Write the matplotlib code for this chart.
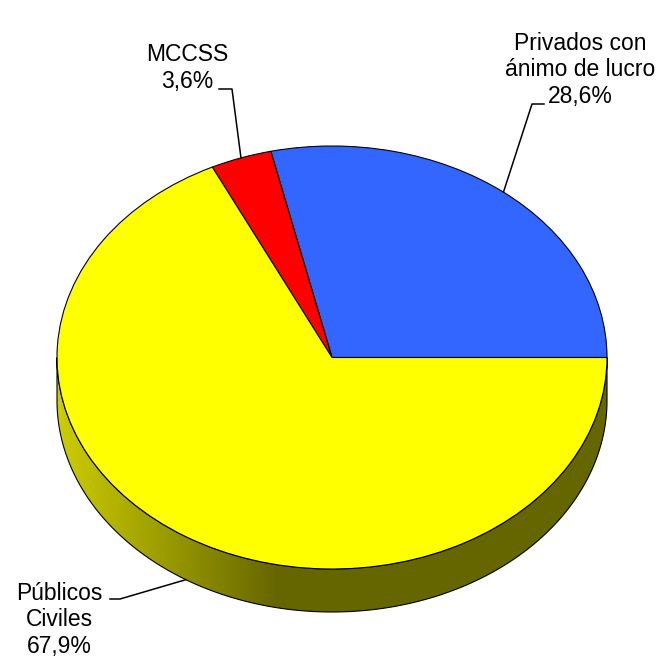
import numpy as np
import matplotlib.pyplot as plt
from matplotlib.patches import Polygon

plt.rcParams['font.family'] = ['Liberation Sans', 'DejaVu Sans']

# data
labels = ['Privados con\nánimo de lucro', 'MCCSS', 'Públicos\nCiviles']
shares = [28.6, 3.6, 67.9]
pct_text = ['28,6%', '3,6%', '67,9%']
colors = ['#3366FF', '#FF0000', '#FFFF00']

# layout in pixels of the 668x661 picture
W, H = 668, 661
CX, CY, RX, RY, DEPTH = 332, 357.5, 275, 211.5, 43
text_pos = [(580, 103), (187, 88), (59, 653)]     # centre / baseline of last line
knee_pos = [(532, 104), (232, 89), (120, 599)]
tail_x = [544, 219, 110]


def px(x, y):
    return (x - CX) / RX, (CY - y) / RY


fig = plt.figure(figsize=(W / 100, H / 100), dpi=100)
ax = fig.add_axes([0, 0, 1, 1])

wedges, _ = ax.pie(shares, colors=colors, startangle=0, counterclock=True,
                   wedgeprops=dict(edgecolor='black', linewidth=0.8, zorder=3))

d = DEPTH / RY

# side wall of the "3d" pie
t = np.linspace(np.pi, 2 * np.pi, 300)
top = np.column_stack([np.cos(t), np.sin(t)])
bot = np.column_stack([np.cos(t), np.sin(t) - d])[::-1]
side = Polygon(np.vstack([top, bot]), closed=True, facecolor='none',
               edgecolor='black', linewidth=0.8, zorder=2)
ax.add_patch(side)

xs = np.linspace(-1, 1, 500)
f = np.clip((xs + 1) / 0.8, 0, 1)
v = (205 - 103 * f) / 255
grad = np.stack([v, v, np.zeros_like(v)], axis=-1)[None, :, :]
im = ax.imshow(grad, extent=[-1, 1, -1 - d, 0], aspect='auto', zorder=1)
im.set_clip_path(side)

# labels with leader lines
cum = np.cumsum([0] + shares) / sum(shares) * 360
for i in range(len(shares)):
    m = np.radians((cum[i] + cum[i + 1]) / 2)
    ax0, ay0 = np.cos(m), np.sin(m)
    if ay0 < 0:
        ay0 -= d
    kx, ky = px(*knee_pos[i])
    tx, _ = px(tail_x[i], knee_pos[i][1])
    ax.plot([ax0, kx, tx], [ay0, ky, ky], color='black', lw=1.1, zorder=4)
    lx, ly = px(*text_pos[i])
    ax.text(lx, ly, labels[i] + '\n' + pct_text[i], ha='center', va='baseline',
            multialignment='center', fontsize=16.5, linespacing=1.2)

ax.set_aspect('auto')
ax.set_xlim(-CX / RX, (W - CX) / RX)
ax.set_ylim(-(H - CY) / RY, CY / RY)
ax.axis('off')

fig.savefig('out.png', dpi=100)
